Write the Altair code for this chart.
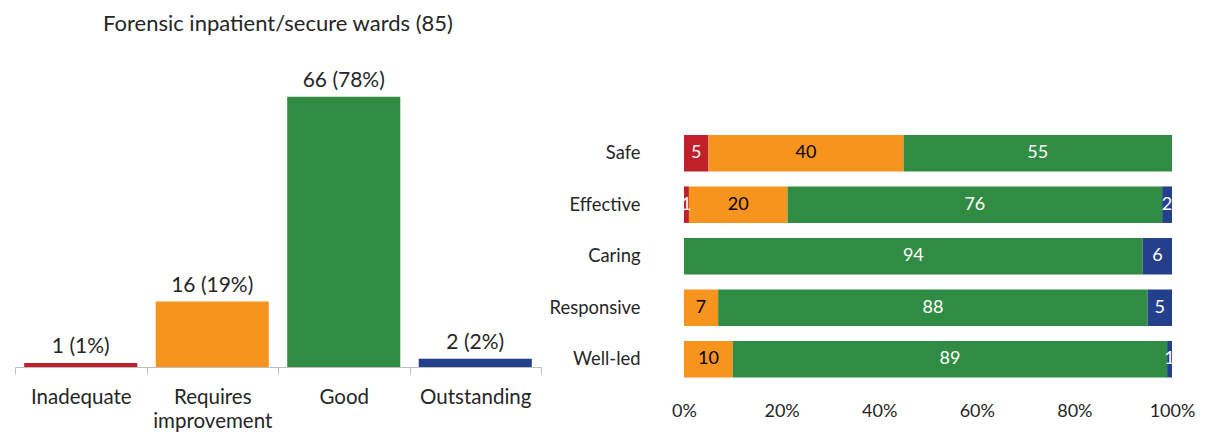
import altair as alt
import pandas as pd

# ---- data ----
ratings = ["Inadequate", "Requires improvement", "Good", "Outstanding"]
colors = ["#C0202A", "#F7941E", "#318C43", "#243F8B"]
counts = [1, 16, 66, 2]
pcts = [1, 19, 78, 2]

measures = ["Safe", "Effective", "Caring", "Responsive", "Well-led"]
inadequate = [5, 1, 0, 0, 0]
requires = [40, 20, 0, 7, 10]
good = [55, 76, 94, 88, 89]
outstanding = [0, 2, 6, 5, 1]

FONT = "Lato"
TXT = "#262626"

left_df = pd.DataFrame({"rating": ratings, "count": counts, "pct": pcts})

rows = []
for i, m in enumerate(measures):
    for j, (r, vals) in enumerate(zip(ratings, [inadequate, requires, good, outstanding])):
        rows.append({"measure": m, "rating": r, "order": j, "value": vals[i]})
right_df = pd.DataFrame(rows)

color_scale = alt.Scale(domain=ratings, range=colors)

# ---- left chart ----
base_l = alt.Chart(left_df).transform_calculate(
    label="datum.count + ' (' + datum.pct + '%)'"
)
xl = alt.X(
    "rating:N", sort=ratings,
    scale=alt.Scale(paddingInner=0, paddingOuter=0),
    axis=alt.Axis(
        title=None, labelAngle=0, tickBand="extent",
        domainColor="#BFBFBF", tickColor="#BFBFBF", tickSize=7,
        labelFontSize=20.5, labelColor=TXT, labelFont=FONT, labelPadding=13,
        labelLineHeight=24,
        labelExpr="datum.value == 'Requires improvement' ? ['Requires', 'improvement'] : datum.value",
    ),
)
yl = alt.Y("count:Q", scale=alt.Scale(domain=[0, 75], nice=False), axis=None)
bars_l = base_l.mark_bar(width=alt.RelativeBandSize(0.86)).encode(
    x=xl, y=yl,
    color=alt.Color("rating:N", scale=color_scale, legend=None),
)
text_l = base_l.mark_text(baseline="bottom", dy=-6, fontSize=21, font=FONT, color=TXT).encode(
    x=xl, y=yl, text="label:N"
)
left = alt.layer(bars_l, text_l).properties(
    width=526, height=307,
    title=alt.Title("Forensic inpatient/secure wards (85)", fontSize=22, font=FONT,
                    fontWeight="normal", color=TXT, offset=24, anchor="middle"),
)

# ---- right chart ----
base_r = alt.Chart(right_df).transform_joinaggregate(
    total="sum(value)", groupby=["measure"]
).transform_window(
    cum="sum(value)", sort=[alt.SortField("order")], groupby=["measure"], frame=[None, 0]
).transform_calculate(
    start="(datum.cum - datum.value) / datum.total",
    end="datum.cum / datum.total",
    mid="(datum.cum - datum.value / 2) / datum.total",
).transform_filter("datum.value > 0")

yr = alt.Y(
    "measure:N", sort=measures,
    scale=alt.Scale(paddingInner=0.291, paddingOuter=0.81, align=0.898),
    axis=alt.Axis(title=None, domain=False, ticks=False, labelFontSize=18.4,
                  labelFont=FONT, labelColor=TXT, labelPadding=44),
)
xr_axis = alt.Axis(
    title=None, format=".0%", values=[0, 0.2, 0.4, 0.6, 0.8, 1.0], grid=False,
    domain=False, ticks=False, labelFontSize=18, labelFont=FONT, labelColor=TXT,
    labelPadding=16, labelFlush=False,
)
bars_r = base_r.mark_bar().encode(
    x=alt.X("start:Q", scale=alt.Scale(domain=[0, 1], nice=False), axis=xr_axis),
    x2="end:Q",
    y=yr,
    color=alt.Color("rating:N", scale=color_scale, legend=None),
)
text_r = base_r.mark_text(fontSize=18, font=FONT, baseline="middle").encode(
    x=alt.X("mid:Q"),
    y=yr,
    text="value:Q",
    color=alt.condition(alt.datum.rating == "Requires improvement", alt.value("black"), alt.value("white")),
)
right = alt.layer(bars_r, text_r).properties(width=488, height=326)

chart = alt.hconcat(left, right, spacing=143, bounds="flush").properties(
    padding={"left": 6, "top": 5, "right": 5, "bottom": 0}
).configure_view(stroke=None)

chart.save("out.html", embed_options={"renderer": "svg", "actions": False})
